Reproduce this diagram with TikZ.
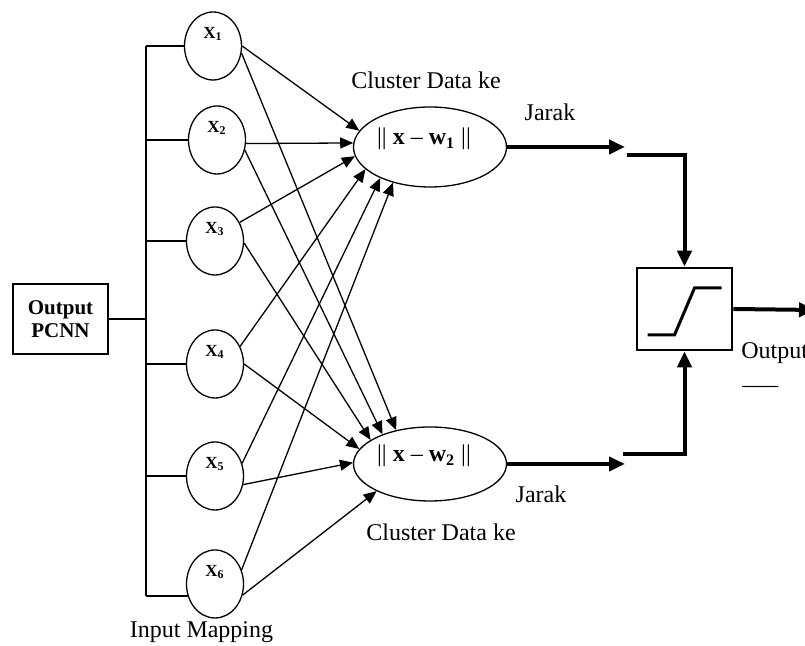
\documentclass[tikz,border=0pt]{standalone}
\usepackage{fontspec}
\setmainfont{Liberation Serif}
\usetikzlibrary{arrows.meta,shapes.geometric}

\begin{document}
\begin{tikzpicture}[x=0.5pt, y=0.5pt,
    inp/.style={ellipse, draw, line width=0.65pt, minimum width=28.5pt, minimum height=34pt, inner sep=0pt},
    clus/.style={ellipse, draw, line width=0.65pt, minimum width=76.5pt, inner sep=0pt},
    xlbl/.style={font=\fontsize{8.5}{10}\selectfont\bfseries, yshift=6pt},
    clbl/.style={font=\fontsize{12}{14}\selectfont, yshift=4pt, xshift=-3pt},
    txt/.style={font=\fontsize{12}{14}\selectfont, inner sep=0pt},
    post/.style={line width=0.65pt, -{Triangle[length=6.5pt,width=5.5pt]}},
    heavy/.style={line width=2pt, -{Triangle[length=8pt,width=7pt]}}]

   \useasboundingbox (0,0) rectangle (805,646);

   \foreach \i/\x/\y in {1/213/600, 2/217/506, 3/215/405, 4/215/282, 5/215/170, 6/215/62}
     \node [inp, label={[xlbl]center:X\textsubscript{\i}}]
        (x\i) at (\x,\y) {};

   \coordinate (bus) at (146,326);
   \draw [line width=0.65pt] (x1.west -| bus) -- (x6.204 -| bus);
   \foreach \i/\a in {1/180, 2/180, 3/180, 4/180, 5/180, 6/204}
     \draw [line width=0.65pt] (x\i.\a) -- (x\i.\a -| bus);

   \node [draw, line width=0.65pt, minimum width=47.5pt, minimum height=35pt, align=center,
          font=\fontsize{10.5}{11.5}\selectfont\bfseries] (pcnn) at (60.5,327) {Output\\PCNN};
   \draw [line width=0.65pt] (pcnn.east) -- (pcnn.east -| bus);

   \node [clus, minimum height=40pt, label={[clbl]center:{|| \textbf{x} -- \textbf{w\textsubscript{1}} ||}}]
      (c1) at (430,499) {};
   \node [clus, minimum height=37pt, label={[clbl]center:{|| \textbf{x} -- \textbf{w\textsubscript{2}} ||}}]
      (c2) at (430,182) {};

   \foreach \s/\a/\b in {1/0/167, 2/353/177, 3/37/187, 4/35/199, 5/25/212, 6/28/224}
     \draw [post] (x\s.\a) -- (c1.\b);
   \foreach \s/\a/\b in {1/346/135, 2/340/148, 3/356/158, 4/0/168, 5/343/179, 6/338/207}
     \draw [post] (x\s.\a) -- (c2.\b);

   \node [txt] (cl1) at (426,566) {Cluster Data ke};
   \node [txt] (cl2) at (441,114) {Cluster Data ke};
   \node [txt] (jr1) at (550,534) {Jarak};
   \node [txt] (jr2) at (541,152) {Jarak};
   \node [txt, anchor=base] (inmap) at (201.5,8) {Input Mapping};

   \node [draw, line width=1.3pt, minimum width=47.5pt, minimum height=41pt, inner sep=0pt]
      (act) at (684.5,337) {};
   \draw [line width=1.5pt, shift={(act.center)}] (-37,-26) -- (-10,-26) -- (10,21) -- (37,21);

   \coordinate (j1) at (625,499);
   \coordinate (e1) at (627,491);
   \coordinate (j2) at (625,182);
   \coordinate (e2) at (623,192);
   \coordinate (out) at (815,336);
   \draw [heavy] (c1.east) -- (j1);
   \draw [heavy] (e1) -| (act.north);
   \draw [heavy] (c2.east) -- (j2);
   \draw [heavy] (e2) -| (act.south);
   \draw [heavy] (act.east) -- (out);

   \node [txt, anchor=base west] (outl) at (741,287) {Output};
   \node [txt, anchor=base west] (outd) at (742,261) {\_\_\_};

\end{tikzpicture}
\end{document}
